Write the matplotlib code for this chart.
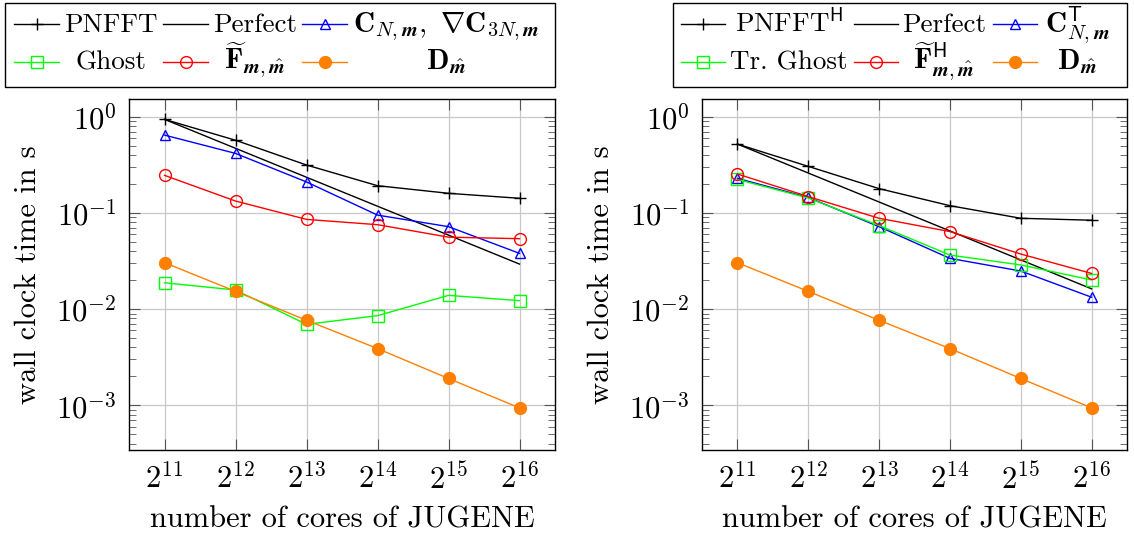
import numpy as np
import matplotlib
matplotlib.use("Agg")
import matplotlib.pyplot as plt
from matplotlib.ticker import FixedLocator, FixedFormatter, NullLocator, LogLocator
from matplotlib.lines import Line2D
from matplotlib.patches import Rectangle

plt.rcParams['font.family'] = 'serif'
plt.rcParams['font.serif'] = ['cmr10']
plt.rcParams['mathtext.fontset'] = 'cm'
plt.rcParams['axes.unicode_minus'] = False
plt.rcParams['axes.formatter.use_mathtext'] = True

# data
cores = [2**11, 2**12, 2**13, 2**14, 2**15, 2**16]
xtick_labels = [r'$2^{11}$', r'$2^{12}$', r'$2^{13}$', r'$2^{14}$', r'$2^{15}$', r'$2^{16}$']

# left: forward transform
pnfft = [0.94, 0.57, 0.315, 0.192, 0.16, 0.142]
perfect = [0.94, 0.47, 0.235, 0.1175, 0.0588, 0.0294]
conv = [0.645, 0.416, 0.21, 0.095, 0.072, 0.038]
ghost = [0.0188, 0.0158, 0.00695, 0.00855, 0.0139, 0.01225]
fft = [0.246, 0.133, 0.0857, 0.0755, 0.056, 0.054]
deconv = [0.0304, 0.0153, 0.00766, 0.00389, 0.0019, 0.00094]

# right: adjoint transform
pnfft_h = [0.52, 0.305, 0.179, 0.119, 0.088, 0.084]
perfect_h = [0.52, 0.26, 0.13, 0.065, 0.0325, 0.01625]
conv_h = [0.229, 0.145, 0.072, 0.0337, 0.0249, 0.0133]
ghost_h = [0.223, 0.143, 0.074, 0.0365, 0.0288, 0.0201]
fft_h = [0.254, 0.148, 0.088, 0.064, 0.0374, 0.0235]
deconv_h = [0.0304, 0.0153, 0.00766, 0.00389, 0.0019, 0.00094]

labels_left = ['PNFFT', 'Perfect',
               r'$\mathbf{C}_{N,\boldsymbol{m}},\ \nabla\mathbf{C}_{3N,\boldsymbol{m}}$',
               'Ghost',
               r'$\widetilde{\mathbf{F}}_{\boldsymbol{m},\hat{\boldsymbol{m}}}$',
               r'$\mathbf{D}_{\hat{\boldsymbol{m}}}$']
labels_right = [r'PNFFT$^{\mathsf{H}}$', 'Perfect',
                r'$\mathbf{C}^{\mathsf{T}}_{N,\boldsymbol{m}}$',
                'Tr. Ghost',
                r'$\widetilde{\mathbf{F}}^{\mathsf{H}}_{\boldsymbol{m},\hat{\boldsymbol{m}}}$',
                r'$\mathbf{D}_{\hat{\boldsymbol{m}}}$']

GREEN = '#00ff00'
ORANGE = '#ff8000'
FS = 22
LFS = 19.5
MFS = 21   # cm bold in mathtext is narrower than LaTeX's bold extended
W, H = 1134, 541

fig = plt.figure(figsize=(W / 100, H / 100), dpi=100)
ax1 = fig.add_axes([129/W, 91/H, 426/W, 351/H])
ax2 = fig.add_axes([702/W, 91/H, 425/W, 351/H])


def fx(px):
    return px / W


def fy(py):
    return 1 - py / H


def legend_box(handles, labels, box, handle_x, text_cx, baselines, rows_y):
    # pgfplots style legend: 2 rows x 3 columns, filled row by row, text centred
    x0, y0, x1, y1 = box
    fig.add_artist(Rectangle((fx(x0), fy(y1)), fx(x1) - fx(x0), fy(y0) - fy(y1),
                             transform=fig.transFigure, fill=False,
                             ec='black', lw=1.0))
    for i, (h, lab) in enumerate(zip(handles, labels)):
        r, c = divmod(i, 3)
        hx0, hx1 = handle_x[c]
        y = fy(rows_y[r])
        fig.add_artist(Line2D([fx(hx0), fx(hx1)], [y, y], transform=fig.transFigure,
                              color=h.get_color(), lw=h.get_linewidth()))
        if h.get_marker() not in (None, 'None', ''):
            fig.add_artist(Line2D([fx((hx0 + hx1) / 2)], [y], transform=fig.transFigure,
                                  ls='none', marker=h.get_marker(),
                                  ms=h.get_markersize(),
                                  mfc=h.get_markerfacecolor(),
                                  mec=h.get_markeredgecolor(),
                                  mew=h.get_markeredgewidth()))
        size = MFS if lab.startswith('$') else LFS
        fig.text(fx(text_cx[c]), fy(baselines[r]), lab, fontsize=size,
                 ha='center', va='baseline')


def draw(ax, series, labels):
    styles = [
        dict(color='black', marker='+', ms=9, mew=1.0),
        dict(color='black', marker=None),
        dict(color='blue', marker='^', ms=7.5, mfc='none', mew=1.0),
        dict(color=GREEN, marker='s', ms=8, mfc='none', mew=1.0),
        dict(color='red', marker='o', ms=8.5, mfc='none', mew=1.0),
        dict(color=ORANGE, marker='o', ms=8.5, mfc=ORANGE, mec=ORANGE),
    ]
    handles = []
    for vals, st, lab in zip(series, styles, labels):
        h, = ax.plot(cores, vals, lw=1.0, label=lab, **st)
        handles.append(h)

    ax.set_xscale('log', base=2)
    ax.set_yscale('log')
    ax.set_xlim(2**10.5, 2**16.5)
    ax.set_ylim(3.43e-4, 1.53)
    ax.xaxis.set_major_locator(FixedLocator(cores))
    ax.xaxis.set_major_formatter(FixedFormatter(xtick_labels))
    ax.xaxis.set_minor_locator(NullLocator())
    ax.yaxis.set_minor_locator(LogLocator(base=10, subs=np.arange(2, 10), numticks=20))
    ax.set_yticks([1e0, 1e-1, 1e-2, 1e-3])
    ax.set_yticklabels([r'$10^{0}$', r'$10^{-1}$', r'$10^{-2}$', r'$10^{-3}$'])
    ax.grid(True, which='major', color='#c8c8c8', lw=0.9)
    ax.set_axisbelow(True)
    ax.tick_params(which='both', direction='in', top=True, right=True,
                   color='#555555', labelsize=FS)
    ax.tick_params(which='major', length=8, width=0.8, pad=9)
    ax.tick_params(which='minor', length=5, width=0.6)
    for sp in ax.spines.values():
        sp.set_linewidth(1.0)
    ax.set_xlabel('number of cores of JUGENE', fontsize=FS, labelpad=8)
    ax.set_ylabel('wall clock time in s', fontsize=FS, labelpad=10)
    return handles


h_left = draw(ax1, [pnfft, perfect, conv, ghost, fft, deconv], labels_left)
h_right = draw(ax2, [pnfft_h, perfect_h, conv_h, ghost_h, fft_h, deconv_h], labels_right)

legend_box(h_left, labels_left, box=(5, 3, 555, 87),
           handle_x=[(14, 59), (163, 208), (302, 347)],
           text_cx=[111, 255, 446], baselines=[32, 69], rows_y=[24, 62])
legend_box(h_right, labels_right, box=(673, 3, 1127, 87),
           handle_x=[(681, 725), (854, 898), (993, 1037)],
           text_cx=[789, 944, 1077], baselines=[32, 69], rows_y=[24, 62])

fig.savefig('out.png', dpi=100)
